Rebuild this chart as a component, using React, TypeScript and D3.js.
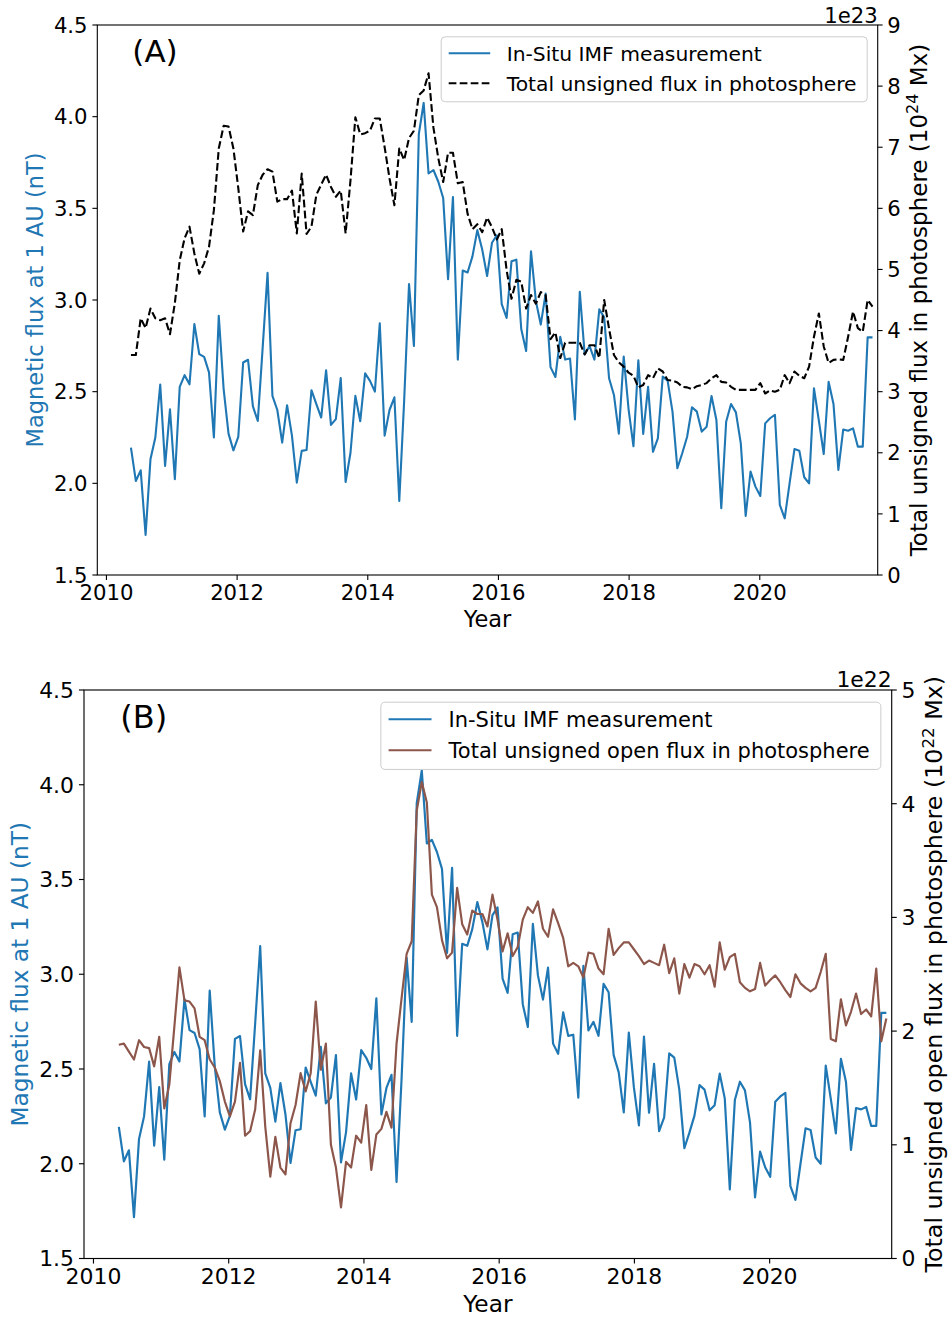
import React from 'react';
import * as d3 from 'd3';

// One value per Carrington rotation, starting mid-May 2010.
const CR_DAYS = 27.2753;
const FIRST_YEAR = 2010.375;

// In-situ IMF strength at 1 AU (nT)
const imfFlux = [
  2.195, 2.013, 2.071, 1.718, 2.131, 2.25, 2.539, 2.095, 2.404, 2.022,
  2.526, 2.59, 2.54, 2.869, 2.705, 2.69, 2.605, 2.25, 2.914, 2.514,
  2.271, 2.18, 2.253, 2.659, 2.674, 2.42, 2.34, 2.74, 3.148, 2.477,
  2.4, 2.222, 2.426, 2.26, 2.004, 2.177, 2.182, 2.508, 2.432, 2.359,
  2.617, 2.319, 2.35, 2.574, 2.007, 2.167, 2.477, 2.339, 2.6, 2.559,
  2.5, 2.873, 2.26, 2.4, 2.469, 1.904, 2.45, 3.087, 2.749, 3.903,
  4.075, 3.69, 3.709, 3.645, 3.556, 3.113, 3.562, 2.675, 3.161, 3.15,
  3.238, 3.381, 3.275, 3.131, 3.312, 3.353, 2.977, 2.902, 3.211, 3.22,
  2.842, 2.722, 3.266, 2.994, 2.866, 3.035, 2.634, 2.58, 2.799, 2.675,
  2.681, 2.349, 3.045, 2.703, 2.749, 2.675, 2.949, 2.905, 2.573, 2.482,
  2.271, 2.692, 2.404, 2.202, 2.671, 2.269, 2.527, 2.172, 2.245, 2.582,
  2.56, 2.391, 2.082, 2.164, 2.254, 2.415, 2.391, 2.282, 2.309, 2.476,
  2.345, 1.864, 2.336, 2.433, 2.387, 2.218, 1.822, 2.064, 1.982, 1.931,
  2.327, 2.355, 2.374, 1.882, 1.809, 2.0, 2.187, 2.178, 2.033, 2.0,
  2.518, 2.342, 2.16, 2.554, 2.433, 2.073, 2.294, 2.287, 2.3, 2.2,
  2.2, 2.796, 2.796,
];

// Total unsigned photospheric flux (units of 1e23 Mx)
const photoFlux = [
  3.6, 3.6, 4.2, 4.04, 4.36, 4.2, 4.17, 4.2, 3.94, 4.45,
  5.15, 5.51, 5.7, 5.26, 4.93, 5.1, 5.37, 5.97, 6.98, 7.35,
  7.34, 6.98, 6.33, 5.62, 5.95, 5.89, 6.38, 6.55, 6.64, 6.6,
  6.11, 6.15, 6.15, 6.29, 5.59, 6.57, 5.58, 5.7, 6.22, 6.39,
  6.55, 6.35, 6.19, 6.29, 5.59, 6.46, 7.49, 7.21, 7.23, 7.27,
  7.47, 7.47, 7.0, 6.49, 6.05, 6.98, 6.79, 7.15, 7.27, 7.85,
  7.93, 8.21, 7.32, 6.82, 6.43, 6.91, 6.91, 6.41, 6.43, 5.91,
  5.66, 5.74, 5.61, 5.85, 5.69, 5.49, 5.66, 4.99, 4.52, 4.83,
  4.8, 4.36, 4.58, 4.44, 4.63, 4.58, 3.86, 3.97, 3.55, 3.8,
  3.8, 3.8, 3.8, 3.61, 3.76, 3.76, 3.55, 4.5, 4.03, 3.6,
  3.48, 3.41, 3.31, 3.26, 3.07, 3.11, 3.27, 3.22, 3.38, 3.33,
  3.19, 3.18, 3.15, 3.08, 3.07, 3.04, 3.09, 3.11, 3.14, 3.22,
  3.27, 3.16, 3.15, 3.08, 3.03, 3.03, 3.03, 3.03, 3.03, 3.14,
  2.97, 3.02, 3.0, 3.03, 3.27, 3.14, 3.33, 3.26, 3.22, 3.41,
  3.9, 4.28, 3.74, 3.47, 3.52, 3.53, 3.52, 3.9, 4.31, 4.04,
  3.98, 4.5, 4.39,
];

// Total unsigned open flux (units of 1e22 Mx)
const openFlux = [
  1.88, 1.89, 1.82, 1.75, 1.92, 1.86, 1.85, 1.69, 1.95, 1.32,
  1.53, 2.04, 2.56, 2.27, 2.26, 2.2, 1.95, 1.92, 1.75, 1.68,
  1.56, 1.38, 1.25, 1.38, 1.72, 1.08, 1.12, 1.31, 1.83, 1.16,
  0.72, 1.07, 0.8, 0.74, 1.19, 1.35, 1.63, 1.47, 1.63, 2.26,
  1.66, 1.89, 1.0, 0.8, 0.45, 0.85, 0.8, 1.08, 1.02, 1.35,
  0.78, 1.09, 1.14, 1.29, 1.15, 1.89, 2.29, 2.68, 2.79, 3.94,
  4.19, 4.01, 3.2, 3.09, 2.8, 2.64, 2.69, 3.26, 2.94, 2.85,
  3.06, 3.03, 3.03, 2.92, 3.2, 2.98, 2.7, 2.86, 2.66, 2.74,
  2.98, 3.09, 3.04, 3.14, 2.9, 2.83, 3.07, 2.95, 2.82, 2.57,
  2.6, 2.57, 2.47, 2.69, 2.68, 2.55, 2.5, 2.9, 2.67, 2.73,
  2.78, 2.78, 2.72, 2.66, 2.59, 2.62, 2.6, 2.58, 2.76, 2.51,
  2.64, 2.33, 2.59, 2.47, 2.59, 2.57, 2.5, 2.58, 2.39, 2.78,
  2.54, 2.65, 2.68, 2.43, 2.38, 2.35, 2.37, 2.6, 2.4, 2.45,
  2.49, 2.43, 2.36, 2.3, 2.5, 2.42, 2.38, 2.35, 2.38, 2.52,
  2.68, 1.93, 1.91, 2.28, 2.05, 2.17, 2.33, 2.15, 2.19, 2.13,
  2.55, 1.91, 2.11,
];

const years = imfFlux.map((_, i) => FIRST_YEAR + (i * CR_DAYS) / 365.25);
const yearTicks = [2010, 2012, 2014, 2016, 2018, 2020];
const imfTicks = [1.5, 2.0, 2.5, 3.0, 3.5, 4.0, 4.5];
const photoTicks = [0, 1, 2, 3, 4, 5, 6, 7, 8, 9];
const openTicks = [0, 1, 2, 3, 4, 5];

const BLUE = '#1f77b4';
const BROWN = '#8c564b';
const FONT = '"DejaVu Sans", sans-serif';

type Box = { left: number; right: number; top: number; bottom: number };

type PanelProps = {
  box: Box;
  s: number; // scale of this panel's text relative to panel A
  tag: string;
  rightValues: number[];
  rightTicks: number[];
  rightColor: string;
  rightDash?: string;
  offsetText: string;
  rightLabel: string;
  rightSup: string;
  legendWidth: number;
  legendLabel: string;
};

function Panel(p: PanelProps) {
  const { box, s } = p;
  const x = d3.scaleLinear().domain([2009.86, 2021.805]).range([box.left, box.right]);
  const yL = d3.scaleLinear().domain([1.5, 4.5]).range([box.bottom, box.top]);
  const rMax = p.rightTicks[p.rightTicks.length - 1];
  const yR = d3.scaleLinear().domain([0, rMax]).range([box.bottom, box.top]);

  const imfLine = d3.line<number>().x((_, i) => x(years[i])).y((d) => yL(d));
  const rightLine = d3.line<number>().x((_, i) => x(years[i])).y((d) => yR(d));

  const tick = 4.9 * s;
  const fTick = 21.2 * s;
  const fLabel = 22.5 * s;
  const fRight = 23 * s;
  const fLeg = 20.3 * s;
  const lw = 2.1 * s;
  const cy = (box.top + box.bottom) / 2;

  const legRight = box.right - 10.5 * s;
  const legLeft = legRight - p.legendWidth;
  const legTop = box.top + 11.8 * s;
  const legH = 65 * s;
  const row1 = legTop + 16.5 * s;
  const row2 = legTop + 46.5 * s;

  return (
    <g fontFamily={FONT}>
      {/* series */}
      <path d={imfLine(imfFlux) ?? ''} fill="none" stroke={BLUE} strokeWidth={lw} strokeLinejoin="round" />
      <path
        d={rightLine(p.rightValues) ?? ''}
        fill="none"
        stroke={p.rightColor}
        strokeWidth={lw}
        strokeDasharray={p.rightDash}
        strokeLinejoin="round"
      />

      {/* frame */}
      <rect
        x={box.left}
        y={box.top}
        width={box.right - box.left}
        height={box.bottom - box.top}
        fill="none"
        stroke="black"
        strokeWidth={1.1 * s}
      />

      {/* x axis */}
      {yearTicks.map((t) => (
        <g key={t}>
          <line x1={x(t)} x2={x(t)} y1={box.bottom} y2={box.bottom + tick} stroke="black" strokeWidth={1.1 * s} />
          <text x={x(t)} y={box.bottom + 25 * s} fontSize={fTick} textAnchor="middle">
            {t}
          </text>
        </g>
      ))}
      <text x={(box.left + box.right) / 2} y={box.bottom + 52 * s} fontSize={fLabel} textAnchor="middle">
        Year
      </text>

      {/* left axis */}
      {imfTicks.map((t) => (
        <g key={t}>
          <line x1={box.left - tick} x2={box.left} y1={yL(t)} y2={yL(t)} stroke="black" strokeWidth={1.1 * s} />
          <text x={box.left - 9.7 * s} y={yL(t)} dy="0.36em" fontSize={fTick} textAnchor="end">
            {t.toFixed(1)}
          </text>
        </g>
      ))}
      <text
        transform={`translate(${box.left - 54 * s},${cy}) rotate(-90)`}
        fontSize={fLabel}
        textAnchor="middle"
        fill={BLUE}
      >
        Magnetic flux at 1 AU (nT)
      </text>

      {/* right axis */}
      {p.rightTicks.map((t) => (
        <g key={t}>
          <line x1={box.right} x2={box.right + tick} y1={yR(t)} y2={yR(t)} stroke="black" strokeWidth={1.1 * s} />
          <text x={box.right + 9.5 * s} y={yR(t)} dy="0.36em" fontSize={fTick}>
            {t}
          </text>
        </g>
      ))}
      <text x={box.right} y={box.top - 2.5 * s} fontSize={fTick} textAnchor="end">
        {p.offsetText}
      </text>
      <text
        transform={`translate(${box.right + 49 * s},${cy}) rotate(-90)`}
        fontSize={fRight}
        textAnchor="middle"
      >
        {p.rightLabel} (10
        <tspan dy={-8.5 * s} fontSize={fRight * 0.7}>
          {p.rightSup}
        </tspan>
        <tspan dy={8.5 * s}> Mx)</tspan>
      </text>

      {/* panel tag */}
      <text x={box.left + 35 * s} y={box.top + 37 * s} fontSize={31 * s}>
        {p.tag}
      </text>

      {/* legend */}
      <rect
        x={legLeft}
        y={legTop}
        width={p.legendWidth}
        height={legH}
        rx={4 * s}
        fill="white"
        fillOpacity={0.8}
        stroke="#cccccc"
        strokeWidth={1}
      />
      <line x1={legLeft + 7.5 * s} x2={legLeft + 49 * s} y1={row1} y2={row1} stroke={BLUE} strokeWidth={lw} />
      <text x={legLeft + 65.5 * s} y={row1} dy="0.36em" fontSize={fLeg}>
        In-Situ IMF measurement
      </text>
      <line
        x1={legLeft + 7.5 * s}
        x2={legLeft + 49 * s}
        y1={row2}
        y2={row2}
        stroke={p.rightColor}
        strokeWidth={lw}
        strokeDasharray={p.rightDash}
      />
      <text x={legLeft + 65.5 * s} y={row2} dy="0.36em" fontSize={fLeg}>
        {p.legendLabel}
      </text>
    </g>
  );
}

export default function App() {
  return (
    <div style={{ position: 'absolute', left: 0, top: 0 }}>
      <svg width={948} height={1319} style={{ display: 'block', background: 'white' }}>
        <Panel
          box={{ left: 97.3, right: 877.7, top: 25, bottom: 575 }}
          s={1}
          tag="(A)"
          rightValues={photoFlux}
          rightTicks={photoTicks}
          rightColor="black"
          rightDash="7.7,3.3"
          offsetText="1e23"
          rightLabel="Total unsigned flux in photosphere"
          rightSup="24"
          legendWidth={426}
          legendLabel="Total unsigned flux in photosphere"
        />
        <Panel
          box={{ left: 84, right: 891.7, top: 690, bottom: 1258.5 }}
          s={1.034}
          tag="(B)"
          rightValues={openFlux}
          rightTicks={openTicks}
          rightColor={BROWN}
          offsetText="1e22"
          rightLabel="Total unsigned open flux in photosphere"
          rightSup="22"
          legendWidth={500}
          legendLabel="Total unsigned open flux in photosphere"
        />
      </svg>
    </div>
  );
}
